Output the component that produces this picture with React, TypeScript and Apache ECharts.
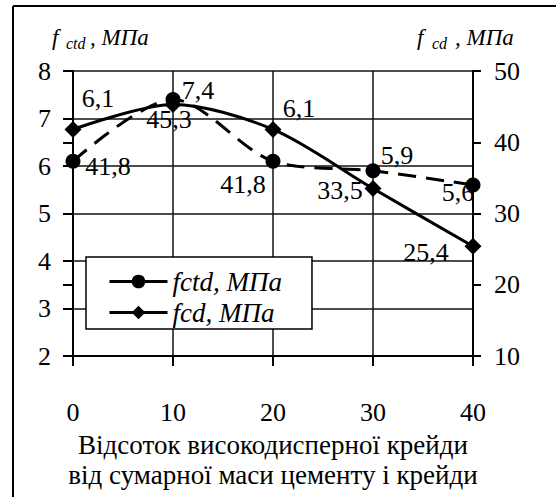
import React, { useEffect, useRef } from "react";
import * as echarts from "echarts";

const percents = [0, 10, 20, 30, 40];
const fctdValues = [6.1, 7.4, 6.1, 5.9, 5.6];
const fcdValues = [41.8, 45.3, 41.8, 33.5, 25.4];
const seriesNames = ["fctd, МПа", "fcd, МПа"];
const xTitleLines = ["Відсоток високодисперної крейди", "від сумарної маси цементу і крейди"];

// label placement (style only)
const fctdLabelOffsets = [[25, -63], [25, -9], [26, -53], [24, -15], [-15, 7]];
const fcdLabelOffsets = [[35, 37], [-4, 15], [-30, 55], [-33, 2], [-47, 6]];

const FONT = "Times New Roman";

export default function App() {
  const ref = useRef<HTMLDivElement>(null);
  useEffect(() => {
    const chart = echarts.init(ref.current!, null, { renderer: "svg" });
    const fmt = (p: any) => String(p.value[1]).replace(".", ",");
    const labelBase = {
      show: true,
      position: "inside",
      align: "center",
      verticalAlign: "middle",
      fontSize: 26,
      fontFamily: FONT,
      color: "#000",
      formatter: fmt,
    };
    chart.setOption({
      animation: false,
      backgroundColor: "#fff",
      grid: { left: 73, right: 83, top: 71, bottom: 141, containLabel: false },
      legend: {
        orient: "vertical",
        left: 86,
        top: 257,
        padding: [11, 30, 3, 22],
        borderColor: "#000",
        borderWidth: 1.5,
        backgroundColor: "#fff",
        itemWidth: 58,
        itemHeight: 17,
        itemGap: 4,
        itemStyle: { color: "#000" },
        textStyle: { fontSize: 27, fontStyle: "italic", fontFamily: FONT, color: "#000" },
        data: [
          { name: seriesNames[0], lineStyle: { type: "solid", width: 3, color: "#000" } },
          { name: seriesNames[1], lineStyle: { type: "solid", width: 3, color: "#000" } },
        ],
      },
      xAxis: {
        type: "value",
        min: 0,
        max: 40,
        interval: 10,
        name: xTitleLines.join("\n"),
        nameLocation: "middle",
        nameGap: 72,
        nameTextStyle: { fontSize: 27, lineHeight: 30, fontFamily: FONT, color: "#000" },
        axisLine: { show: true, onZero: false, lineStyle: { color: "#000", width: 2 } },
        axisTick: { show: true, length: 10, lineStyle: { color: "#000", width: 2 } },
        axisLabel: { fontSize: 26, margin: 43, color: "#000", fontFamily: FONT },
        splitLine: { show: true, lineStyle: { color: "#111", width: 1.5 } },
      },
      yAxis: [
        {
          type: "value",
          min: 2,
          max: 8,
          interval: 1,
          position: "left",
          axisLine: { show: true, onZero: false, lineStyle: { color: "#000", width: 2 } },
          axisTick: { show: true, length: 10, lineStyle: { color: "#000", width: 2 } },
          axisLabel: { fontSize: 26, margin: 22, color: "#000", fontFamily: FONT },
          splitLine: { show: true, lineStyle: { color: "#111", width: 1.5 } },
        },
        {
          type: "value",
          min: 10,
          max: 50,
          interval: 10,
          position: "right",
          axisLine: { show: true, onZero: false, lineStyle: { color: "#000", width: 2 } },
          axisTick: { show: true, length: 8, lineStyle: { color: "#000", width: 2 } },
          axisLabel: { fontSize: 26, margin: 21, color: "#000", fontFamily: FONT },
          splitLine: { show: false },
        },
        {
          type: "value",
          min: 10,
          max: 50,
          interval: 10,
          position: "right",
          axisLine: { show: false },
          axisTick: { show: true, inside: true, length: 10, lineStyle: { color: "#000", width: 2 } },
          axisLabel: { show: false },
          splitLine: { show: false },
        },
      ],
      series: [
        {
          name: seriesNames[0],
          type: "line",
          yAxisIndex: 0,
          smooth: 0.3,
          symbol: "circle",
          symbolSize: 15,
          itemStyle: { color: "#000" },
          lineStyle: { color: "#000", width: 3, type: [18, 10] },
          label: labelBase,
          data: percents.map((x, i) => ({
            value: [x, fctdValues[i]],
            label: { offset: fctdLabelOffsets[i] },
          })),
          z: 3,
        },
        {
          name: seriesNames[1],
          type: "line",
          yAxisIndex: 1,
          smooth: 0.3,
          symbol: "diamond",
          symbolSize: 17,
          itemStyle: { color: "#000" },
          lineStyle: { color: "#000", width: 3, type: "solid" },
          label: labelBase,
          data: percents.map((x, i) => ({
            value: [x, fcdValues[i]],
            label: { offset: fcdLabelOffsets[i] },
          })),
          z: 3,
        },
      ],
      graphic: [
        { type: "line", shape: { x1: 13, y1: 6, x2: 556, y2: 6 }, style: { stroke: "#000", lineWidth: 2 } },
        { type: "line", shape: { x1: 13, y1: 6, x2: 13, y2: 497 }, style: { stroke: "#000", lineWidth: 2 } },
        { type: "text", x: 52, y: 37, style: { text: "f", fontSize: 23, fontStyle: "italic", fontFamily: FONT, fill: "#000", verticalAlign: "middle" } },
        { type: "text", x: 66, y: 43, style: { text: "ctd", fontSize: 16, fontStyle: "italic", fontFamily: FONT, fill: "#000", verticalAlign: "middle" } },
        { type: "text", x: 90, y: 37, style: { text: ", МПа", fontSize: 23, fontStyle: "italic", fontFamily: FONT, fill: "#000", verticalAlign: "middle" } },
        { type: "text", x: 417, y: 37, style: { text: "f", fontSize: 23, fontStyle: "italic", fontFamily: FONT, fill: "#000", verticalAlign: "middle" } },
        { type: "text", x: 432, y: 43, style: { text: "cd", fontSize: 16, fontStyle: "italic", fontFamily: FONT, fill: "#000", verticalAlign: "middle" } },
        { type: "text", x: 455, y: 37, style: { text: ", МПа", fontSize: 23, fontStyle: "italic", fontFamily: FONT, fill: "#000", verticalAlign: "middle" } },
      ],
    });
    return () => chart.dispose();
  }, []);
  return (
    <div
      ref={ref}
      style={{ position: "absolute", left: 0, top: 0, width: 556, height: 497 }}
    />
  );
}
